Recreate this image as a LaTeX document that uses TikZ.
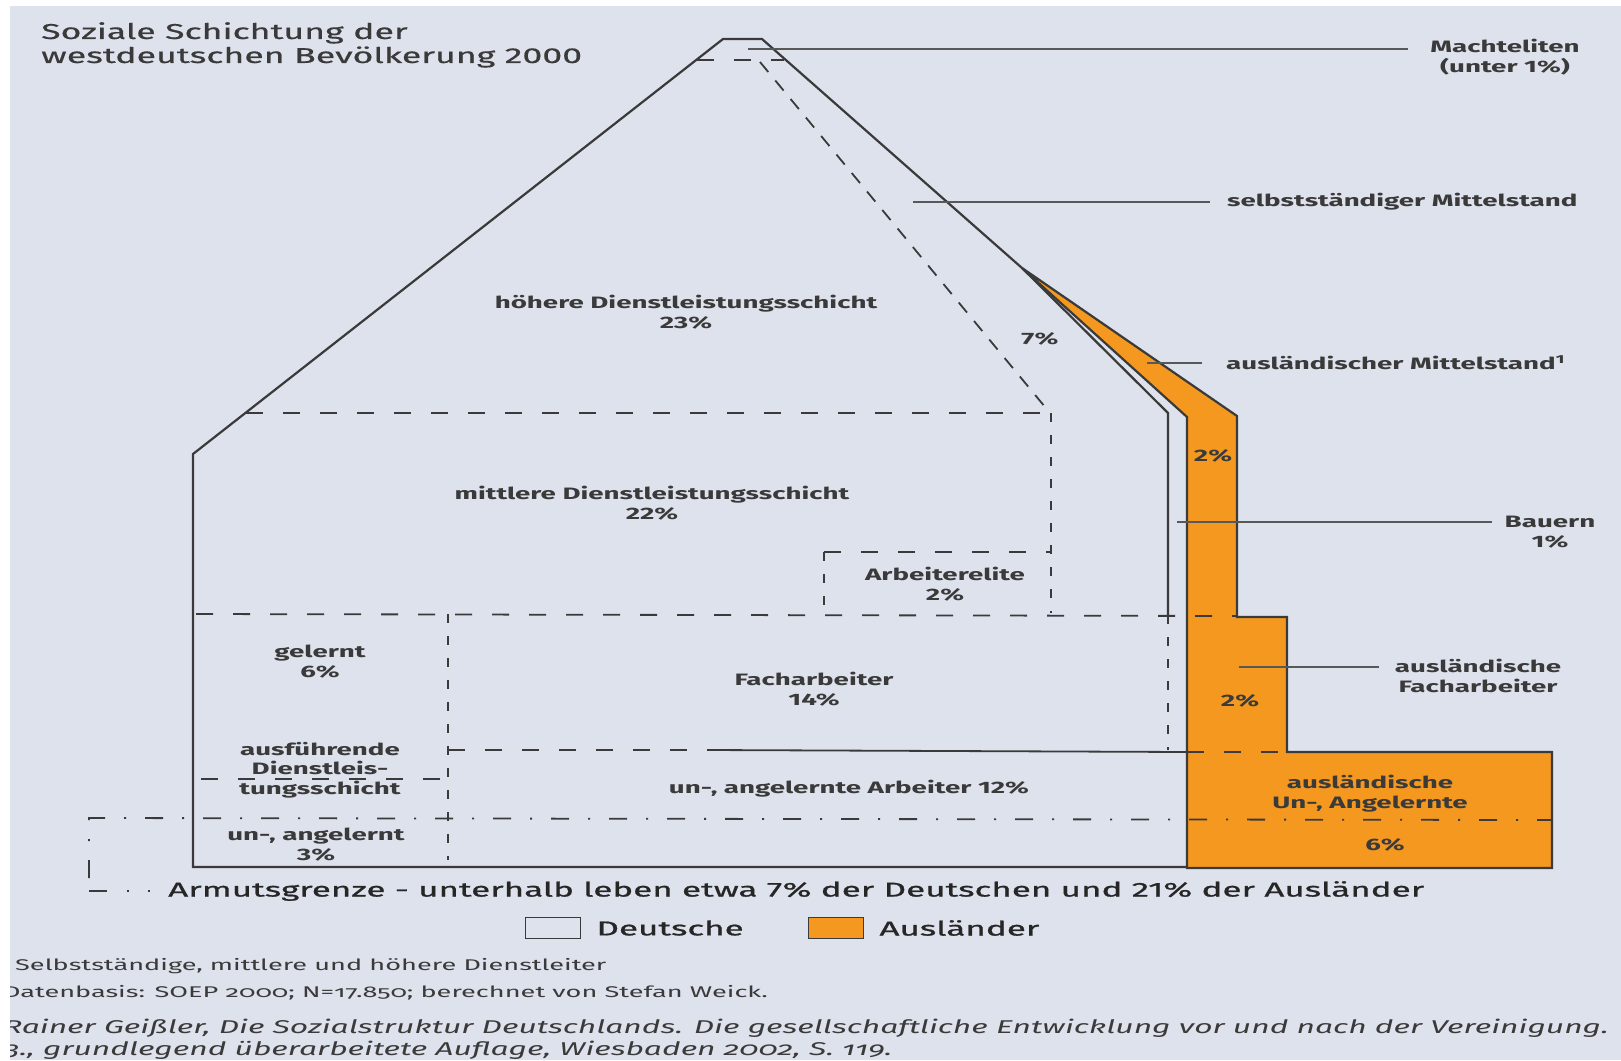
\documentclass[tikz,border=0pt]{standalone}
\usepackage{fontspec}
\setmainfont{Fira Sans}[FakeStretch=1.68]
\newfontfamily\titlefont{Fira Sans}[FakeStretch=1.66,FakeBold=0.6]
\newfontfamily\condfont{Fira Sans}[FakeStretch=1.75,FakeBold=1]
\newfontfamily\notefont{Fira Sans}[FakeStretch=1.75,Numbers=OldStyle]
\newfontfamily\citefont{Fira Sans}[FakeStretch=1.72,Numbers=OldStyle]
\usetikzlibrary{positioning}
\definecolor{bggray}{RGB}{222,226,237}
\definecolor{auslorange}{RGB}{244,152,32}
\definecolor{ink}{RGB}{58,58,58}

\begin{document}
\begin{tikzpicture}[x=1pt,y=-1pt,
    outline/.style={draw=ink,line width=2.2pt},
    hdash/.style={draw=ink,line width=1.8pt,dash pattern=on 17pt off 20pt},
    vdash/.style={draw=ink,line width=1.8pt,dash pattern=on 9pt off 13pt},
    ddash/.style={draw=ink,line width=1.8pt,dash pattern=on 13pt off 11pt},
    armut/.style={draw=ink,line width=1.8pt,dash pattern=on 18pt off 19pt on 2pt off 19pt},
    leader/.style={draw=ink!85,line width=1.5pt},
    lab/.style={font=\fontsize{16.5}{20}\selectfont\bfseries,text=ink,align=center,inner sep=0pt},
    keybox/.style={draw=ink,line width=1.5pt,minimum width=55pt,minimum height=21pt,inner sep=0pt},
    keytext/.style={font=\condfont\fontsize{20}{24}\selectfont,text=black!85,inner sep=0pt}]
  \useasboundingbox (0,0) rectangle (1621,1060);
  \fill[white] (0,0) rectangle (1621,1060);
  \fill[bggray] (10,6) rectangle (1621,1060);

  \filldraw[fill=auslorange,outline] (1022,268) -- (1237,416) -- (1237,617) -- (1287,617)
    -- (1287,752) -- (1552,752) -- (1552,868) -- (1187,868) -- (1187,417) -- cycle;
  \draw[outline] (1168,615) -- (1168,413) -- (1022,268) -- (762,39) -- (723,39)
    -- (193,454) -- (193,867) -- (1187,867);
  \draw[outline,line width=1.8pt] (709,750) -- (1187,752);

  \draw[hdash] (697,60) -- (784,60);
  \draw[ddash] (760,62) -- (1050,413);
  \draw[hdash] (246,413) -- (1051,413);
  \draw[vdash] (1051,413) -- (1051,613);
  \draw[hdash] (824,552) -- (1051,552);
  \draw[vdash] (824,552) -- (824,613);
  \draw[hdash] (196,614) -- (1237,616);
  \draw[vdash] (1168,615) -- (1168,750);
  \draw[vdash] (448,614) -- (448,860);
  \draw[hdash] (448,750) -- (709,750);
  \draw[hdash] (201,779) -- (441,779);
  \draw[hdash] (1187,752) -- (1287,752);
  \draw[armut] (89,878) -- (89,818) -- (1552,820);
  \draw[draw=ink,line width=1.8pt,dash pattern=on 18pt off 20pt on 2pt off 19pt on 2pt off 60pt]
    (89,891) -- (152,891);

  \node[anchor=north west,align=left,inner sep=0pt,text=ink,font=\titlefont\fontsize{21.5}{24}\selectfont]
    (title) at (41,22) {Soziale Schichtung der\\westdeutschen Bevölkerung 2000};

  \node[lab] (l-macht) at (1505,57) {Machteliten\\(unter 1\%)};
  \node[lab,anchor=west] (l-selbst) at (1227,202) {selbstständiger Mittelstand};
  \node[lab] (l-sieben) at (1040,339) {7\%};
  \node[lab,anchor=west] (l-auslmittel) at (1226,363) {ausländischer Mittelstand\textsuperscript{1}};
  \node[lab] (l-zweia) at (1213,456) {2\%};
  \node[lab] (l-bauern) at (1550,532) {Bauern\\1\%};
  \node[lab] (l-hoehere) at (686,312) {höhere Dienstleistungsschicht\\23\%};
  \node[lab] (l-mittlere) at (652,503) {mittlere Dienstleistungsschicht\\22\%};
  \node[lab] (l-elite) at (945,584) {Arbeiterelite\\2\%};
  \node[lab] (l-gelernt) at (320,662) {gelernt\\6\%};
  \node[lab] (l-fach) at (814,689) {Facharbeiter\\14\%};
  \node[lab,font=\fontsize{16.5}{19.5}\selectfont\bfseries] (l-ausf) at (320,770) {ausführende\\Dienstleis-\\tungsschicht};
  \node[lab] (l-unang) at (316,845) {un-, angelernt\\3\%};
  \node[lab] (l-unangarb) at (849,789) {un-, angelernte Arbeiter 12\%};
  \node[lab] (l-auslfach) at (1478,676) {ausländische\\Facharbeiter};
  \node[lab] (l-zweib) at (1240,701) {2\%};
  \node[lab] (l-auslun) at (1370,794) {ausländische\\Un-, Angelernte};
  \node[lab] (l-sechs) at (1385,845) {6\%};

  \coordinate (p-macht) at (748,49);
  \coordinate (p-selbst) at (913,202);
  \coordinate (p-auslmittel) at (1147,363);
  \coordinate (p-bauern) at (1177,522);
  \coordinate (p-auslfach) at (1239,667);
  \draw[leader,shorten >=22pt] (p-macht) -- (p-macht -| l-macht.west);
  \draw[leader,shorten >=17pt] (p-selbst) -- (l-selbst.west);
  \draw[leader,shorten >=24pt] (p-auslmittel) -- (p-auslmittel -| l-auslmittel.west);
  \draw[leader,shorten >=13pt] (p-bauern) -- (p-bauern -| l-bauern.west);
  \draw[leader,shorten >=16pt] (p-auslfach) -- (p-auslfach -| l-auslfach.west);

  \node[keytext,anchor=west] (t-armut) at (168,891)
    {Armutsgrenze - unterhalb leben etwa 7\% der Deutschen und 21\% der Ausländer};
  \node[keybox,fill=bggray] (k-deu) at (553,928) {};
  \node[keytext,right=15pt of k-deu] (t-deu) {Deutsche};
  \node[keybox,fill=auslorange] (k-aus) at (836,928) {};
  \node[keytext,right=15pt of k-aus] (t-aus) {Ausländer};

  \begin{scope}
    \clip (10,6) rectangle (1621,1060);
    \node[anchor=base west,inner sep=0pt,text=ink,font=\notefont\fontsize{15.5}{18}\selectfont]
      (n-selbst) at (15,970) {Selbstständige, mittlere und höhere Dienstleiter};
    \node[anchor=base west,inner sep=0pt,text=ink,font=\notefont\fontsize{15.5}{18}\selectfont]
      (n-daten) at (3,997) {Datenbasis: SOEP 2000; N=17.850; berechnet von Stefan Weick.};
    \node[anchor=base west,inner sep=0pt,text=ink,font=\citefont\itshape\fontsize{18.5}{21}\selectfont]
      (n-quelle) at (3,1033) {Rainer Geißler, Die Sozialstruktur Deutschlands. Die gesellschaftliche Entwicklung vor und nach der Vereinigung.};
    \node[anchor=base west,inner sep=0pt,text=ink,font=\citefont\itshape\fontsize{18.5}{21}\selectfont]
      (n-auflage) at (4,1055) {3., grundlegend überarbeitete Auflage, Wiesbaden 2002, S. 119.};
  \end{scope}
\end{tikzpicture}
\end{document}
